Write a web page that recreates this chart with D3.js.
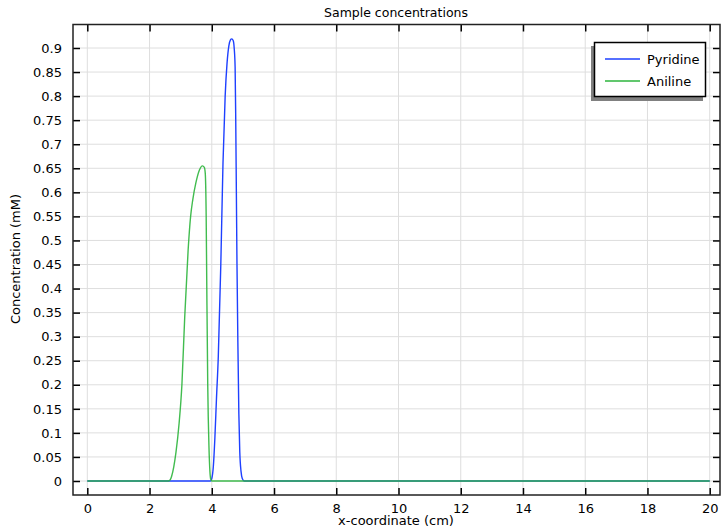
<!DOCTYPE html>
<html>
<head>
<meta charset="utf-8">
<script src="https://cdn.jsdelivr.net/npm/d3@7"></script>
<style>
  body { margin: 0; background: #fff; }
  text { font-family: "DejaVu Sans", sans-serif; fill: #000; }
</style>
</head>
<body>
<div id="chart"></div>
<script>
// data
var pyridineX = [0, 3.96, 4.0, 4.05, 4.1, 4.15, 4.21, 4.29, 4.36, 4.43, 4.49, 4.55, 4.6, 4.64, 4.69, 4.72, 4.75, 4.77, 4.79, 4.81, 4.84, 4.87, 4.9, 4.94, 4.98, 5.04, 20];
var pyridineY = [0, 0, 0.005, 0.03, 0.09, 0.17, 0.26, 0.45, 0.66, 0.8, 0.868, 0.905, 0.917, 0.919, 0.915, 0.9, 0.86, 0.75, 0.6, 0.45, 0.28, 0.14, 0.06, 0.02, 0.005, 0, 0];

var anilineX = [0, 2.6, 2.66, 2.71, 2.78, 2.85, 2.95, 3.04, 3.13, 3.24, 3.32, 3.39, 3.49, 3.6, 3.7, 3.76, 3.79, 3.82, 3.84, 3.87, 3.91, 3.94, 3.97, 4.0, 20];
var anilineY = [0, 0, 0.002, 0.01, 0.03, 0.06, 0.12, 0.2, 0.34, 0.48, 0.55, 0.585, 0.62, 0.646, 0.655, 0.652, 0.64, 0.55, 0.4, 0.2, 0.07, 0.02, 0.003, 0, 0];

var xTicks = d3.range(0, 21, 2);
var yTicks = d3.range(0, 0.901, 0.05);

var w = 723, h = 532;
var pLeft = 73, pRight = 720, pTop = 24.5, pBottom = 495;

var x = d3.scaleLinear().domain([0, 20]).range([87.3, 709.7]);
var y = d3.scaleLinear().domain([0, 0.9]).range([481, 48]);

var svg = d3.select("#chart").append("svg")
	.attr("width", w)
	.attr("height", h);

// grid
svg.append("g").selectAll("line").data(xTicks).enter().append("line")
	.attr("x1", function(d) {return x(d);}).attr("x2", function(d) {return x(d);})
	.attr("y1", pTop).attr("y2", pBottom)
	.attr("stroke", "#dedede").attr("stroke-width", 1);
svg.append("g").selectAll("line").data(yTicks).enter().append("line")
	.attr("x1", pLeft).attr("x2", pRight)
	.attr("y1", function(d) {return y(d);}).attr("y2", function(d) {return y(d);})
	.attr("stroke", "#dedede").attr("stroke-width", 1);

// lines
var line = d3.line()
	.x(function(d) {return x(d[0]);})
	.y(function(d) {return y(d[1]);})
	.curve(d3.curveMonotoneX);

svg.append("clipPath").attr("id", "clip").append("rect")
	.attr("x", pLeft).attr("y", pTop).attr("width", pRight - pLeft).attr("height", pBottom - pTop);

svg.append("path")
	.datum(d3.zip(pyridineX, pyridineY))
	.attr("d", line)
	.attr("fill", "none")
	.attr("stroke", "#1e40ff")
	.attr("stroke-width", 1.4)
	.attr("clip-path", "url(#clip)");

svg.append("path")
	.datum(d3.zip(anilineX, anilineY))
	.attr("d", line)
	.attr("fill", "none")
	.attr("stroke", "#2cb53c")
	.attr("stroke-width", 1.4)
	.attr("opacity", 0.9)
	.attr("clip-path", "url(#clip)");

// axes (ticks inside)
var bottomAxis = d3.axisBottom(x).tickValues(xTicks).tickSizeInner(-7).tickSizeOuter(0).tickPadding(10);
var gb = svg.append("g").attr("transform", "translate(0," + pBottom + ")").call(bottomAxis);
var topAxis = d3.axisTop(x).tickValues(xTicks).tickSizeInner(-7).tickSizeOuter(0).tickFormat("");
var gt = svg.append("g").attr("transform", "translate(0," + pTop + ")").call(topAxis);
var leftAxis = d3.axisLeft(y).tickValues(yTicks).tickSizeInner(-7).tickSizeOuter(0).tickPadding(11)
	.tickFormat(function(d) {return +d.toFixed(2) + "";});
var gl = svg.append("g").attr("transform", "translate(" + pLeft + ",0)").call(leftAxis);
var rightAxis = d3.axisRight(y).tickValues(yTicks).tickSizeInner(-7).tickSizeOuter(0).tickFormat("");
var gr = svg.append("g").attr("transform", "translate(" + pRight + ",0)").call(rightAxis);

[gb, gt, gl, gr].forEach(function(g) {
	g.select(".domain").remove();
	g.selectAll(".tick line").attr("stroke", "#000").attr("stroke-width", 1.5);
	g.selectAll("text").attr("font-size", "13px").attr("font-family", "DejaVu Sans, sans-serif");
});
gb.selectAll("text").attr("dy", "0.6em");

// frame
svg.append("rect")
	.attr("x", pLeft).attr("y", pTop)
	.attr("width", pRight - pLeft).attr("height", pBottom - pTop)
	.attr("fill", "none").attr("stroke", "#222").attr("stroke-width", 1.5);

// titles
svg.append("text").attr("x", 396).attr("y", 17).attr("text-anchor", "middle")
	.attr("font-size", "12.5px").text("Sample concentrations");
svg.append("text").attr("x", 396).attr("y", 525).attr("text-anchor", "middle")
	.attr("font-size", "13px").text("x-coordinate (cm)");
svg.append("text").attr("transform", "translate(20,259) rotate(-90)").attr("text-anchor", "middle")
	.attr("font-size", "13px").text("Concentration (mM)");

// legend
var lg = svg.append("g");
lg.append("rect").attr("x", 591).attr("y", 46).attr("width", 112).attr("height", 55).attr("fill", "#808080");
lg.append("rect").attr("x", 594.5).attr("y", 42.5).attr("width", 111).attr("height", 54)
	.attr("fill", "#fff").attr("stroke", "#000").attr("stroke-width", 1.5);
var legendNames = ["Pyridine", "Aniline"];
var legendColors = ["#1e40ff", "#2cb53c"];
legendNames.forEach(function(n, i) {
	var ly = 59 + i * 22;
	lg.append("line").attr("x1", 605).attr("x2", 640).attr("y1", ly).attr("y2", ly)
		.attr("stroke", legendColors[i]).attr("stroke-width", 1.4);
	lg.append("text").attr("x", 647).attr("y", ly + 4.5).attr("font-size", "13px").text(n);
});
</script>
</body>
</html>
